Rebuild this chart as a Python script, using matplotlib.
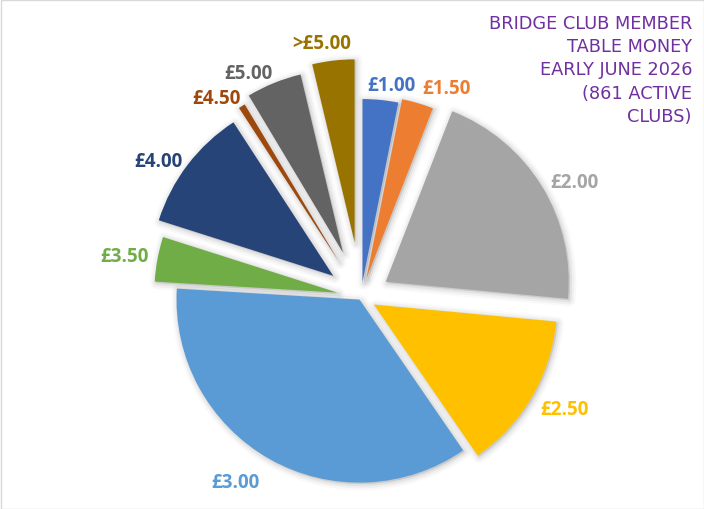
import numpy as np
import matplotlib
matplotlib.use("Agg")
import matplotlib.pyplot as plt
import matplotlib.patches as mpatches

# table money bands and number of clubs in each (861 in total)
bands = ["£1.00", "£1.50", "£2.00", "£2.50", "£3.00",
         "£3.50", "£4.00", "£4.50", "£5.00", ">£5.00"]
clubs = [27, 24, 177, 120, 306, 34, 94, 5, 42, 32]

colors = ["#4472C4", "#ED7D31", "#A5A5A5", "#FFC000", "#5B9BD5",
          "#70AD47", "#264478", "#9E480E", "#636363", "#997300"]
# per-slice explosion in pixels (slices were pulled out by hand)
explode_px = [15, 19, 29, 15, 3, 24, 35, 42, 48, 55]
# small clockwise shifts (degrees) so crowded labels don't collide
label_shift = [2, 5, 2, 0, 3, 0, -2, -3, -4, -2]
# extra outward push for a label (px)
label_push = [-3, 3, 0, 4, 14, 0, -3, -3, -2, 0]

title = "BRIDGE CLUB MEMBER\nTABLE MONEY\nEARLY JUNE 2026\n(861 ACTIVE\nCLUBS)"

W, H = 704, 510
fig = plt.figure(figsize=(W / 100, H / 100), dpi=100)
ax = fig.add_axes([0, 0, 1, 1])

radius = 183
center = (361, H - 298)
wedges, _ = ax.pie(clubs, colors=colors, startangle=90, counterclock=False,
                   radius=radius, center=center, explode=explode_px,
                   wedgeprops=dict(linewidth=0, zorder=3))

# soft drop shadow under every slice
for w in wedges:
    for lw, a in [(9, 0.025), (6, 0.035), (3, 0.05)]:
        sh = mpatches.Wedge((w.center[0] + 1.5, w.center[1] - 1.5), w.r,
                            w.theta1, w.theta2, fc="black", ec="black",
                            lw=lw, alpha=a, zorder=1, joinstyle="round")
        ax.add_patch(sh)

# outside-end labels
pad, hw, hh = 12, 22, 7
for w, lab, c, s, p in zip(wedges, bands, colors, label_shift, label_push):
    t = np.deg2rad((w.theta1 + w.theta2) / 2 - s)
    cx, cy = w.center
    x = cx + (w.r + pad + p) * np.cos(t) + hw * np.cos(t)
    y = cy + (w.r + pad + p) * np.sin(t) + hh * np.sin(t)
    ax.text(x, y, lab, ha="center", va="center", color=c,
            fontsize=13.5, fontweight="bold", family="Open Sans")

ax.text(692, H - 15, title, ha="right", va="top", multialignment="right",
        color="#7030A0", fontsize=12.8, family="DejaVu Sans", linespacing=1.37)

ax.set_xlim(0, W)
ax.set_ylim(0, H)
ax.set_aspect("equal")
ax.axis("off")

fig.patches.append(mpatches.Rectangle((0.5 / W, 0.5 / H), 1 - 1 / W, 1 - 1 / H,
                                      transform=fig.transFigure, fill=False,
                                      ec="#D9D9D9", lw=1))

fig.savefig("out.png", dpi=100, facecolor="white")
